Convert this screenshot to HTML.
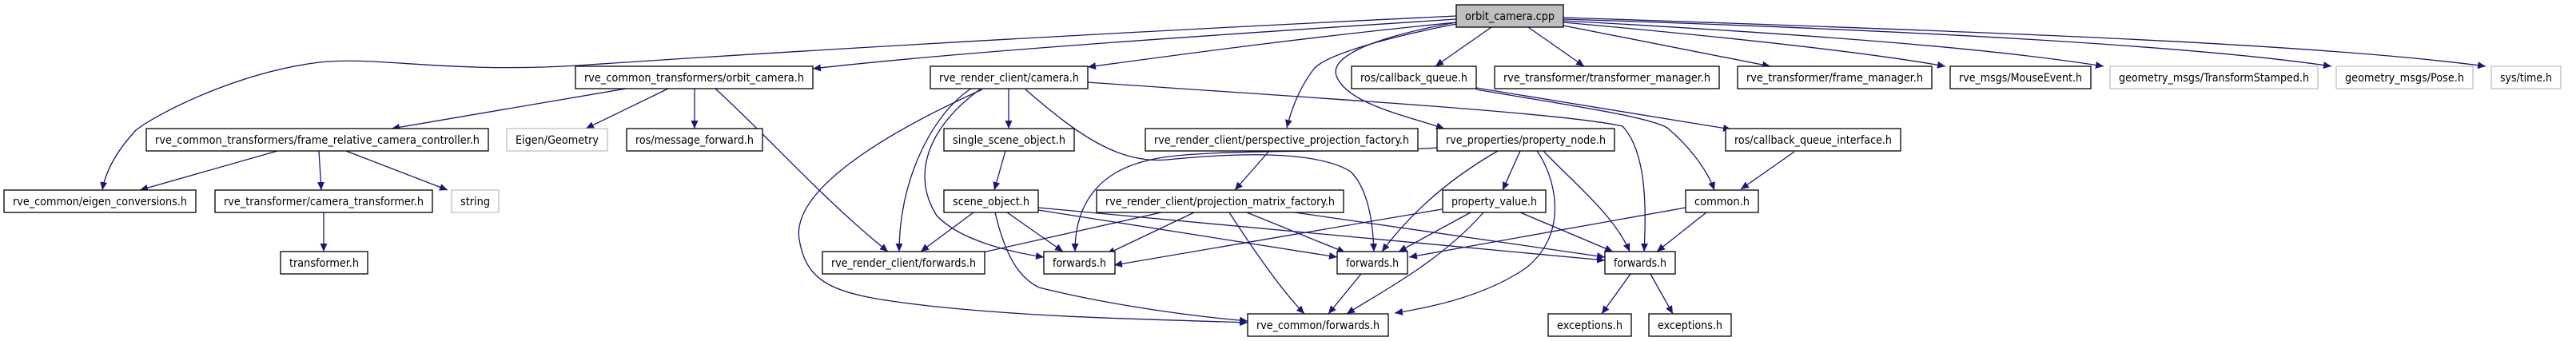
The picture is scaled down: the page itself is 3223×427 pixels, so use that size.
<!DOCTYPE html>
<html><head><meta charset="utf-8"><style>
html,body{margin:0;padding:0;background:#fff;width:3223px;height:427px;overflow:hidden}
svg text{font-family:"DejaVu Sans Condensed","Liberation Sans",sans-serif;font-size:14px;fill:#000}
</style></head><body>
<svg width="3223" height="427" viewBox="0 0 3223 427" xmlns="http://www.w3.org/2000/svg">
<defs>
<marker id="a" markerUnits="userSpaceOnUse" markerWidth="11" markerHeight="9" refX="10" refY="4.5" orient="auto"><path d="M0,0 L10,4.5 L0,9 z" fill="#191970"/></marker>
</defs>
<g fill="none" stroke="#191970" stroke-width="1.3" marker-end="url(#a)">
<!-- root edges -->
<path d="M1822,20 C1300,45 900,70 723,82 C560,92 470,70 400,78 C300,90 200,140 170,163 C145,190 132,215 128,238"/>
<path d="M1822,24 C1500,45 1200,65 1017,86"/>
<path d="M1822,28 C1650,45 1500,65 1361,84"/>
<path d="M1822,30 C1720,50 1660,70 1645,85 C1625,110 1615,140 1610,160"/>
<path d="M1822,28 C1700,50 1665,75 1672,95 C1685,130 1760,145 1807,161"/>
<path d="M1866,34 L1796,83"/>
<path d="M1912,34 L1982,83"/>
<path d="M1956,32 L2215,83"/>
<path d="M1956,28 C2200,50 2350,68 2434,83"/>
<path d="M1956,26 C2300,45 2500,62 2632,83"/>
<path d="M1956,24 C2400,38 2750,58 2917,83"/>
<path d="M1956,22 C2500,40 2900,55 3110,83"/>
<!-- orbit_camera.h -->
<path d="M783,111 L490,161"/>
<path d="M836,111 L733,161"/>
<path d="M869,111 L869,161"/>
<path d="M895,111 C960,170 1030,250 1111,315"/>
<!-- frame_relative -->
<path d="M347,189 L175,238"/>
<path d="M399,189 L402,238"/>
<path d="M433,189 L560,238"/>
<path d="M405,266 L405,315"/>
<!-- camera.h -->
<path d="M1262,111 L1262,161"/>
<path d="M1215,111 C1170,140 1125,220 1125,315"/>
<path d="M1229,112 C1100,170 990,240 1000,300 C1010,360 1050,370 1162,383 C1300,398 1450,400 1561,404"/>
<path d="M1226,112 C1160,160 1140,220 1172,270 C1200,300 1260,315 1306,322"/>
<path d="M1283,112 C1350,170 1400,205 1460,200 C1560,190 1650,190 1690,215 C1715,240 1718,290 1719,315"/>
<path d="M1361,103 C1600,120 1950,140 2030,158 C2060,190 2060,260 2057,315"/>
<!-- misc -->
<path d="M1258,189 L1244,238"/>
<path d="M1588,189 L1545,238"/>
<path d="M1453,266 L1203,322"/>
<path d="M1494,266 L1385,318"/>
<path d="M1538,266 C1560,300 1600,360 1632,393"/>
<path d="M1560,266 L1683,316"/>
<path d="M1620,266 L2008,322"/>
<path d="M1218,266 L1152,315"/>
<path d="M1260,266 L1330,315"/>
<path d="M1245,266 C1260,330 1280,350 1300,360 C1380,380 1480,395 1561,402"/>
<path d="M1299,263 L1673,322"/>
<path d="M1299,260 L2008,326"/>
<!-- property_node -->
<path d="M1902,189 L1880,238"/>
<path d="M1874,189 C1820,220 1770,260 1729,315"/>
<path d="M1923,189 C1945,220 1965,290 1910,335 C1860,370 1790,385 1745,392"/>
<path d="M1931,189 C1970,230 2020,270 2039,315"/>
<path d="M1798,185 C1700,192 1500,185 1440,200 C1370,215 1345,260 1345,315"/>
<!-- property_value -->
<path d="M1804,262 L1394,332"/>
<path d="M1840,266 L1750,315"/>
<path d="M1856,266 C1800,330 1720,370 1685,393"/>
<path d="M1902,266 L2018,315"/>
<!-- common -->
<path d="M2109,260 L1763,322"/>
<path d="M2135,266 L2073,315"/>
<!-- callback queue -->
<path d="M1847,110 L2166,162"/>
<path d="M1847,112 C1950,130 2060,145 2086,160 C2110,180 2135,210 2145,238"/>
<path d="M2245,190 L2178,237"/>
<path d="M1703,343 L1662,393"/>
<path d="M2040,343 L2004,393"/>
<path d="M2065,343 L2093,393"/>
</g>
<g stroke-width="1.3">
<rect x="1822" y="6" width="134" height="28" fill="#bfbfbf" stroke="#000"/>
<rect x="720" y="83" width="297" height="28" fill="#fff" stroke="#000"/>
<rect x="1164" y="83" width="197" height="28" fill="#fff" stroke="#000"/>
<rect x="1691" y="83" width="156" height="28" fill="#fff" stroke="#000"/>
<rect x="1870" y="83" width="281" height="28" fill="#fff" stroke="#000"/>
<rect x="2174" y="83" width="243" height="28" fill="#fff" stroke="#000"/>
<rect x="2440" y="83" width="176" height="28" fill="#fff" stroke="#000"/>
<rect x="2640" y="83" width="260" height="28" fill="#fff" stroke="#bfbfbf"/>
<rect x="2923" y="83" width="171" height="28" fill="#fff" stroke="#bfbfbf"/>
<rect x="3117" y="83" width="87" height="28" fill="#fff" stroke="#bfbfbf"/>
<rect x="183" y="161" width="428" height="28" fill="#fff" stroke="#000"/>
<rect x="634" y="161" width="126" height="28" fill="#fff" stroke="#bfbfbf"/>
<rect x="784" y="161" width="170" height="28" fill="#fff" stroke="#000"/>
<rect x="1181" y="161" width="163" height="28" fill="#fff" stroke="#000"/>
<rect x="1433" y="161" width="341" height="28" fill="#fff" stroke="#000"/>
<rect x="1798" y="161" width="222" height="28" fill="#fff" stroke="#000"/>
<rect x="2159" y="161" width="219" height="28" fill="#fff" stroke="#000"/>
<rect x="5" y="238" width="240" height="28" fill="#fff" stroke="#000"/>
<rect x="269" y="238" width="272" height="28" fill="#fff" stroke="#000"/>
<rect x="565" y="238" width="59" height="28" fill="#fff" stroke="#bfbfbf"/>
<rect x="1181" y="238" width="118" height="28" fill="#fff" stroke="#000"/>
<rect x="1372" y="238" width="309" height="28" fill="#fff" stroke="#000"/>
<rect x="1805" y="238" width="129" height="28" fill="#fff" stroke="#000"/>
<rect x="2109" y="238" width="91" height="28" fill="#fff" stroke="#000"/>
<rect x="351" y="315" width="109" height="28" fill="#fff" stroke="#000"/>
<rect x="1029" y="315" width="203" height="28" fill="#fff" stroke="#000"/>
<rect x="1306" y="315" width="89" height="28" fill="#fff" stroke="#000"/>
<rect x="1673" y="315" width="88" height="28" fill="#fff" stroke="#000"/>
<rect x="2008" y="315" width="88" height="28" fill="#fff" stroke="#000"/>
<rect x="1561" y="393" width="176" height="28" fill="#fff" stroke="#000"/>
<rect x="1937" y="393" width="104" height="28" fill="#fff" stroke="#000"/>
<rect x="2063" y="393" width="103" height="28" fill="#fff" stroke="#000"/>
</g>
<g lengthAdjust="spacingAndGlyphs">
<text x="1833" y="25" textLength="112" lengthAdjust="spacingAndGlyphs">orbit_camera.cpp</text>
<text x="731" y="102" textLength="275" lengthAdjust="spacingAndGlyphs">rve_common_transformers/orbit_camera.h</text>
<text x="1175" y="102" textLength="175" lengthAdjust="spacingAndGlyphs">rve_render_client/camera.h</text>
<text x="1702" y="102" textLength="134" lengthAdjust="spacingAndGlyphs">ros/callback_queue.h</text>
<text x="1881" y="102" textLength="259" lengthAdjust="spacingAndGlyphs">rve_transformer/transformer_manager.h</text>
<text x="2185" y="102" textLength="221" lengthAdjust="spacingAndGlyphs">rve_transformer/frame_manager.h</text>
<text x="2451" y="102" textLength="154" lengthAdjust="spacingAndGlyphs">rve_msgs/MouseEvent.h</text>
<text x="2651" y="102" textLength="238" lengthAdjust="spacingAndGlyphs">geometry_msgs/TransformStamped.h</text>
<text x="2934" y="102" textLength="149" lengthAdjust="spacingAndGlyphs">geometry_msgs/Pose.h</text>
<text x="3128" y="102" textLength="65" lengthAdjust="spacingAndGlyphs">sys/time.h</text>
<text x="194" y="180" textLength="406" lengthAdjust="spacingAndGlyphs">rve_common_transformers/frame_relative_camera_controller.h</text>
<text x="645" y="180" textLength="104" lengthAdjust="spacingAndGlyphs">Eigen/Geometry</text>
<text x="795" y="180" textLength="148" lengthAdjust="spacingAndGlyphs">ros/message_forward.h</text>
<text x="1192" y="180" textLength="141" lengthAdjust="spacingAndGlyphs">single_scene_object.h</text>
<text x="1444" y="180" textLength="319" lengthAdjust="spacingAndGlyphs">rve_render_client/perspective_projection_factory.h</text>
<text x="1809" y="180" textLength="200" lengthAdjust="spacingAndGlyphs">rve_properties/property_node.h</text>
<text x="2170" y="180" textLength="197" lengthAdjust="spacingAndGlyphs">ros/callback_queue_interface.h</text>
<text x="16" y="257" textLength="218" lengthAdjust="spacingAndGlyphs">rve_common/eigen_conversions.h</text>
<text x="280" y="257" textLength="250" lengthAdjust="spacingAndGlyphs">rve_transformer/camera_transformer.h</text>
<text x="576" y="257" textLength="37" lengthAdjust="spacingAndGlyphs">string</text>
<text x="1192" y="257" textLength="96" lengthAdjust="spacingAndGlyphs">scene_object.h</text>
<text x="1383" y="257" textLength="287" lengthAdjust="spacingAndGlyphs">rve_render_client/projection_matrix_factory.h</text>
<text x="1816" y="257" textLength="107" lengthAdjust="spacingAndGlyphs">property_value.h</text>
<text x="2120" y="257" textLength="69" lengthAdjust="spacingAndGlyphs">common.h</text>
<text x="362" y="334" textLength="87" lengthAdjust="spacingAndGlyphs">transformer.h</text>
<text x="1040" y="334" textLength="181" lengthAdjust="spacingAndGlyphs">rve_render_client/forwards.h</text>
<text x="1317" y="334" textLength="67" lengthAdjust="spacingAndGlyphs">forwards.h</text>
<text x="1684" y="334" textLength="66" lengthAdjust="spacingAndGlyphs">forwards.h</text>
<text x="2019" y="334" textLength="66" lengthAdjust="spacingAndGlyphs">forwards.h</text>
<text x="1572" y="412" textLength="154" lengthAdjust="spacingAndGlyphs">rve_common/forwards.h</text>
<text x="1948" y="412" textLength="82" lengthAdjust="spacingAndGlyphs">exceptions.h</text>
<text x="2074" y="412" textLength="81" lengthAdjust="spacingAndGlyphs">exceptions.h</text>
</g>
</svg>
</body></html>
